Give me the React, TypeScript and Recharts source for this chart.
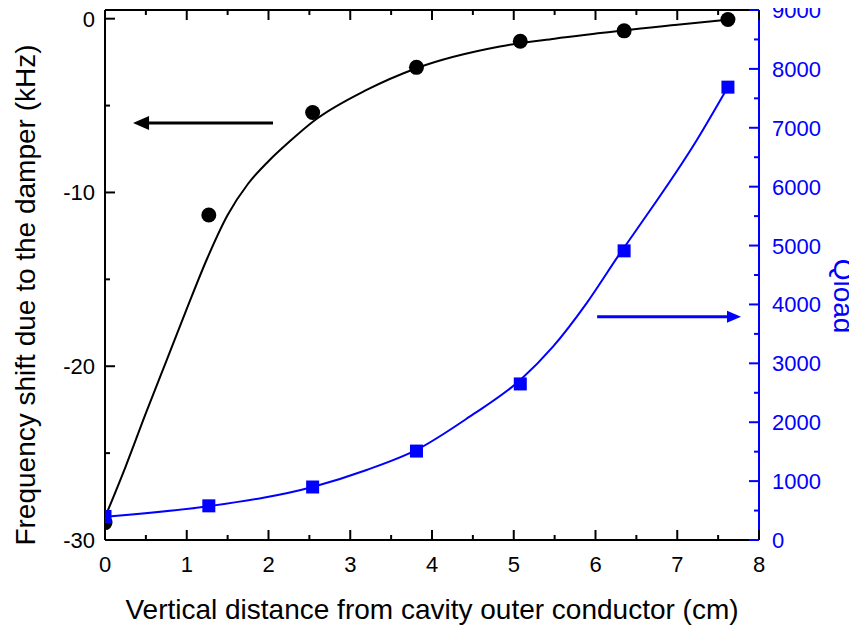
import { ComposedChart, Line, Scatter, XAxis, YAxis, ReferenceLine } from 'recharts'

const FONT = '"Liberation Sans", Arial, sans-serif'
const BLUE = '#0000ff'

// measured points (cm, kHz, Qload)
const positionCm = [0, 1.27, 2.54, 3.81, 5.08, 6.35, 7.62]
const shiftKHz = [-29.0, -11.3, -5.4, -2.8, -1.3, -0.7, -0.05]
const qload = [400, 580, 900, 1510, 2650, 4910, 7690]

// fitted curves
const shiftFitX = [0, 0.25, 0.5, 0.75, 1.0, 1.25, 1.5, 1.75, 2.0, 2.25, 2.55, 3.2, 3.81, 4.83, 5.5, 6.06, 6.36, 7.0, 7.62]
const shiftFitY = [-28.7, -25.8, -22.7, -19.7, -16.7, -13.8, -11.3, -9.5, -8.2, -7.1, -5.9, -4.1, -2.85, -1.6, -1.15, -0.83, -0.66, -0.35, -0.06]
const qFitX = [0, 1.28, 2.55, 3.2, 3.81, 4.46, 5.08, 5.48, 5.89, 6.3, 6.5, 7.24, 7.62]
const qFitY = [396, 577, 905, 1189, 1530, 2094, 2717, 3283, 4019, 4868, 5264, 6792, 7692]

const xTicks = [0, 0.5, 1, 1.5, 2, 2.5, 3, 3.5, 4, 4.5, 5, 5.5, 6, 6.5, 7, 7.5, 8]
const shiftTicks = [-30, -25, -20, -15, -10, -5, 0]
const qTicks = [0, 500, 1000, 1500, 2000, 2500, 3000, 3500, 4000, 4500, 5000, 5500, 6000, 6500, 7000, 7500, 8000, 8500, 9000]

const shiftPoints = positionCm.map((x, i) => ({ x, y: shiftKHz[i] }))
const qPoints = positionCm.map((x, i) => ({ x, q: qload[i] }))
const shiftFit = shiftFitX.map((x, i) => ({ x, y: shiftFitY[i] }))
const qFit = qFitX.map((x, i) => ({ x, q: qFitY[i] }))

// arrows pointing at each series' axis
const shiftArrow = [{ x: 2.055, y: -6 }, { x: 0.343, y: -6 }]
const qArrow = [{ x: 6.02, y: 3790 }, { x: 7.78, y: 3790 }]

function BottomTick({ x, y, payload }: any) {
  const major = Number.isInteger(payload.value)
  return (
    <g>
      <line x1={x} y1={y} x2={x} y2={y - (major ? 10 : 5)} stroke="#000" strokeWidth={2} />
      {major && (
        <text x={x} y={y + 32} textAnchor="middle" fontSize={22} fontFamily={FONT} fill="#000">
          {payload.value}
        </text>
      )}
    </g>
  )
}

function TopTick({ x, y, payload }: any) {
  const major = Number.isInteger(payload.value)
  return <line x1={x} y1={y} x2={x} y2={y + (major ? 10 : 5)} stroke="#000" strokeWidth={2} />
}

function LeftTick({ x, y, payload }: any) {
  const major = payload.value % 10 === 0
  return (
    <g>
      <line x1={x} y1={y} x2={x + (major ? 10 : 5)} y2={y} stroke="#000" strokeWidth={2} />
      {major && (
        <text x={x - 10} y={y + 8} textAnchor="end" fontSize={22} fontFamily={FONT} fill="#000">
          {payload.value}
        </text>
      )}
    </g>
  )
}

function RightTick({ x, y, payload }: any) {
  const major = payload.value % 1000 === 0
  return (
    <g>
      <line x1={x} y1={y} x2={x - (major ? 10 : 5)} y2={y} stroke={BLUE} strokeWidth={2} />
      {major && (
        <text x={x + 13} y={y + 8} textAnchor="start" fontSize={22} fontFamily={FONT} fill={BLUE}>
          {payload.value}
        </text>
      )}
    </g>
  )
}

const arrow = (color: string, head: number, half: number) => (p: any) => {
  const { x1, y1, x2, y2 } = p
  const dir = Math.sign(x2 - x1)
  return (
    <g>
      <line x1={x1} y1={y1} x2={x2 - dir * head} y2={y2} stroke={color} strokeWidth={3} />
      <polygon
        points={`${x2},${y2} ${x2 - dir * head},${y2 - half} ${x2 - dir * head},${y2 + half}`}
        fill={color}
      />
    </g>
  )
}

const dotShape = (p: any) => <circle cx={p.cx} cy={p.cy} r={7.5} fill="#000" />
const squareShape = (p: any) => <rect x={p.cx - 6.5} y={p.cy - 6.5} width={13} height={13} fill={BLUE} />

export default function App() {
  return (
    <ComposedChart width={849} height={623} margin={{ top: 1, right: 0, bottom: 0, left: 0 }}>
      <XAxis
        dataKey="x" type="number" domain={[0, 8]} ticks={xTicks} interval={0} allowDataOverflow
        axisLine={{ stroke: '#000', strokeWidth: 2 }} tickLine={false} tickSize={0} tickMargin={0}
        tick={<BottomTick />} height={91}
        label={{
          content: () => (
            <text x={424} y={611} textAnchor="middle" fontSize={28} fontFamily={FONT} fill="#000">
              Vertical distance from cavity outer conductor (cm)
            </text>
          ),
        }}
      />
      <XAxis
        xAxisId="top" orientation="top" dataKey="x" type="number" domain={[0, 8]} ticks={xTicks}
        interval={0} allowDataOverflow axisLine={{ stroke: '#000', strokeWidth: 2 }} tickLine={false}
        tickSize={0} tickMargin={0} tick={<TopTick />} height={1}
      />
      <YAxis
        yAxisId="left" type="number" domain={[-30, 0.5]} ticks={shiftTicks} interval={0} allowDataOverflow
        axisLine={{ stroke: '#000', strokeWidth: 2 }} tickLine={false} tickSize={0} tickMargin={0}
        tick={<LeftTick />} width={97}
        label={{
          content: () => (
            <text
              x={17} y={287} transform="rotate(-90 17 287)" textAnchor="middle" dominantBaseline="central"
              fontSize={28} fontFamily={FONT} fill="#000"
            >
              Frequency shift due to the damper (kHz)
            </text>
          ),
        }}
      />
      <YAxis
        yAxisId="right" orientation="right" type="number" domain={[0, 9000]} ticks={qTicks} interval={0}
        allowDataOverflow axisLine={{ stroke: BLUE, strokeWidth: 2 }} tickLine={false} tickSize={0}
        tickMargin={0} tick={<RightTick />} width={98}
        label={{
          content: () => (
            <text
              x={835} y={288} transform="rotate(90 835 288)" textAnchor="middle" dominantBaseline="central"
              fontSize={28} fontFamily={FONT} fill={BLUE}
            >
              Qload
            </text>
          ),
        }}
      />

      <Line
        yAxisId="left" data={shiftFit} dataKey="y" type="monotone" stroke="#000" strokeWidth={2}
        dot={false} activeDot={false} isAnimationActive={false}
      />
      <Scatter yAxisId="left" data={shiftPoints} dataKey="y" shape={dotShape} isAnimationActive={false} />
      <Line
        yAxisId="right" data={qFit} dataKey="q" type="monotone" stroke={BLUE} strokeWidth={2}
        dot={false} activeDot={false} isAnimationActive={false}
      />
      <Scatter yAxisId="right" data={qPoints} dataKey="q" shape={squareShape} isAnimationActive={false} />

      <ReferenceLine yAxisId="left" segment={shiftArrow} shape={arrow('#000', 16, 7)} />
      <ReferenceLine yAxisId="right" segment={qArrow} shape={arrow(BLUE, 14, 6)} />
    </ComposedChart>
  )
}
